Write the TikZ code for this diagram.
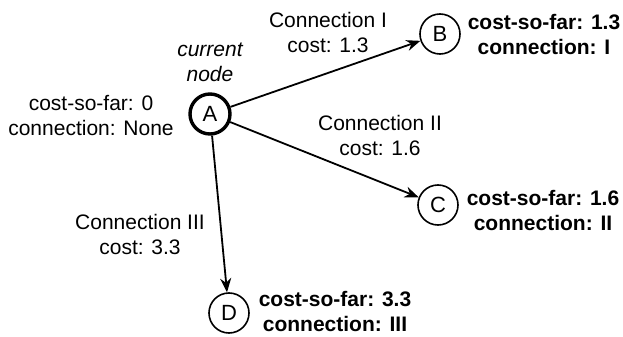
\documentclass[tikz,border=0pt]{standalone}
\usepackage{fontspec}
\setmainfont{Liberation Sans}
\usetikzlibrary{arrows.meta}
\begin{document}
\begin{tikzpicture}[x=0.5pt,y=-0.5pt,
  every node/.style={font=\fontsize{10.5pt}{12.5pt}\selectfont},
  vert/.style={circle,draw,line width=0.8pt,minimum size=20pt,inner sep=0pt,font=\fontsize{11pt}{12.5pt}\selectfont},
  curvert/.style={vert,line width=1.7pt},
  lbl/.style={align=center,inner sep=0pt},
  blbl/.style={lbl,font=\fontsize{10.5pt}{12.5pt}\selectfont\bfseries},
  conn/.style={line width=0.9pt,-{Stealth[length=7pt,width=5.5pt]}}]
\useasboundingbox (0,0) rectangle (623,337);
\node[curvert] (A) at (210,114) {A};
\node[vert] (B) at (440,34) {B};
\node[vert] (C) at (438,205) {C};
\node[vert] (D) at (229,313) {D};
\node[lbl] (la) at (91,115.5) {cost-so-far: 0\\connection: None};
\node[lbl,font=\fontsize{10.5pt}{12.5pt}\selectfont\itshape] (cur) at (210,62) {current\\node};
\node[lbl] (l1) at (328,32) {Connection I\\cost: 1.3};
\node[lbl] (l2) at (380,135) {Connection II\\cost: 1.6};
\node[lbl] (l3) at (140,234.5) {Connection III\\cost: 3.3};
\node[blbl] (lb) at (544,34) {cost-so-far: 1.3\\connection: I};
\node[blbl] (lc) at (543,210) {cost-so-far: 1.6\\connection: II};
\node[blbl] (ld) at (335,311) {cost-so-far: 3.3\\connection: III};
\draw[conn] (A) -- (B);
\draw[conn] (A) -- (C);
\draw[conn] (A) -- (D);
\end{tikzpicture}
\end{document}
